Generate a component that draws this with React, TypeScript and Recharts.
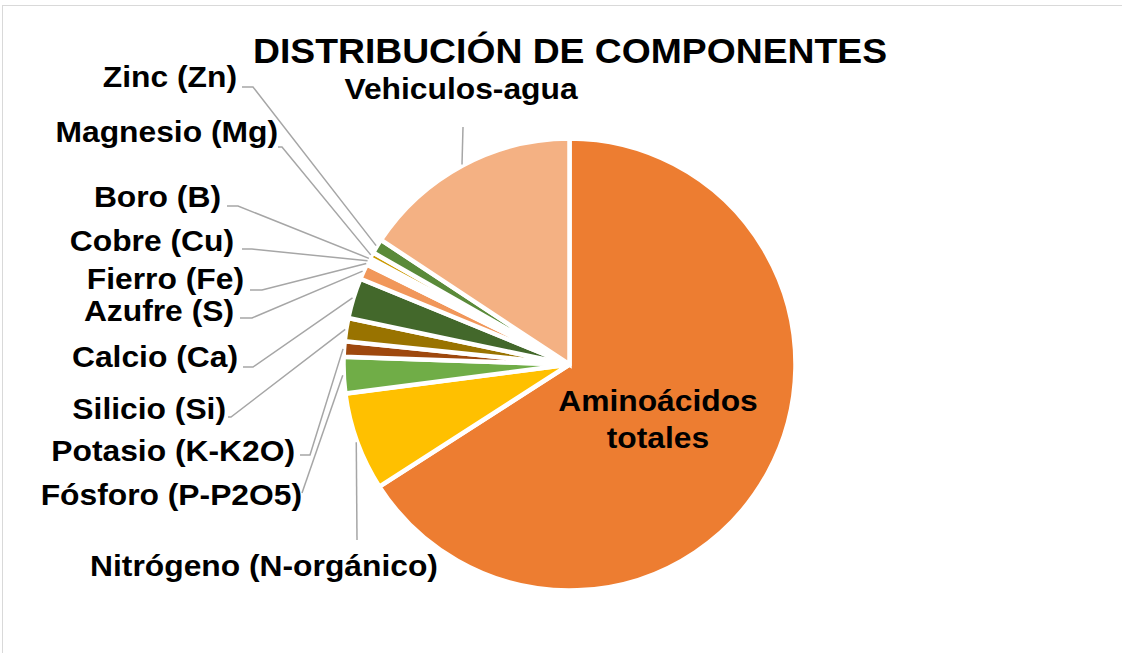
import { PieChart, Pie, Cell } from 'recharts';

const categorias = [
  'Aminoácidos totales',
  'Nitrógeno (N-orgánico)',
  'Fósforo (P-P2O5)',
  'Potasio (K-K2O)',
  'Silicio (Si)',
  'Calcio (Ca)',
  'Azufre (S)',
  'Fierro (Fe)',
  'Cobre (Cu)',
  'Boro (B)',
  'Magnesio (Mg)',
  'Zinc (Zn)',
  'Vehiculos-agua',
];

const porcentajes = [65.9, 7.03, 2.6, 1.1, 1.65, 2.9, 1.1, 0.1, 0.3, 0.1, 0.45, 1.05, 15.7];

const colores = [
  '#ED7D31', '#FFC000', '#70AD47', '#9E480E', '#997300', '#43682B', '#F1975A',
  '#FFCD33', '#8CC168', '#BE6427', '#CC9A00', '#5A8A39', '#F4B183',
];

// posicion de etiquetas (manual, como en el grafico original)
// tx/ty: ancla del texto; pts: puntos de la linea guia despues del borde del sector
type Layout = { tx: number; ty: number; anchor: 'start' | 'middle' | 'end'; pts: [number, number][]; wrap?: boolean };
const etiquetas: Layout[] = [
  { tx: 658, ty: 411, anchor: 'middle', pts: [], wrap: true },
  { tx: 264, ty: 576, anchor: 'middle', pts: [[357, 540]] },
  { tx: 302, ty: 505, anchor: 'end', pts: [[302, 493]] },
  { tx: 295, ty: 461, anchor: 'end', pts: [[310, 455], [300, 455]] },
  { tx: 226, ty: 419, anchor: 'end', pts: [[231, 417], [228, 417]] },
  { tx: 238, ty: 367, anchor: 'end', pts: [[253, 367], [243, 367]] },
  { tx: 234, ty: 321, anchor: 'end', pts: [[252, 318], [240, 318]] },
  { tx: 244, ty: 289, anchor: 'end', pts: [[262, 290], [250, 290]] },
  { tx: 234, ty: 251, anchor: 'end', pts: [[252, 249], [242, 249]] },
  { tx: 221, ty: 207, anchor: 'end', pts: [[238, 206], [227, 206]] },
  { tx: 278, ty: 142, anchor: 'end', pts: [[282, 147], [278, 147]] },
  { tx: 237, ty: 87, anchor: 'end', pts: [[253, 87], [242, 87]] },
  { tx: 461, ty: 99, anchor: 'middle', pts: [[463, 127]] },
];

const datos = categorias.map((nombre, i) => ({ nombre, valor: porcentajes[i] }));

const FUENTE = '"Liberation Sans", Arial, sans-serif';
const RAD = Math.PI / 180;

function Etiqueta(props: any) {
  const { cx, cy, midAngle, outerRadius, index } = props;
  const lay = etiquetas[index];
  const nombre = categorias[index];
  const r = outerRadius + 1;
  const x0 = cx + r * Math.cos(-midAngle * RAD);
  const y0 = cy + r * Math.sin(-midAngle * RAD);
  const lineas = lay.wrap ? nombre.split(' ') : [nombre];
  return (
    <g>
      {lay.pts.length > 0 && (
        <polyline
          points={[[x0, y0], ...lay.pts].map((p) => p.join(',')).join(' ')}
          fill="none"
          stroke="#A6A6A6"
          strokeWidth={1.5}
        />
      )}
      {lineas.map((t, k) => (
        <text
          key={k}
          transform={`translate(${lay.tx},${lay.ty + k * 37}) scale(1.085,1)`}
          x={0}
          y={0}
          textAnchor={lay.anchor}
          fontFamily={FUENTE}
          fontWeight={700}
          fontSize={29.3}
          fill="#000"
        >
          {t}
        </text>
      ))}
    </g>
  );
}

export default function App() {
  return (
    <div
      style={{
        position: 'absolute',
        left: 0,
        top: 0,
        width: 1122,
        height: 653,
        overflow: 'hidden',
        background: '#fff',
      }}
    >
      <div
        style={{
          position: 'absolute',
          left: 2,
          top: 5,
          width: 1200,
          height: 700,
          borderLeft: '1px solid #D9D9D9',
          borderTop: '1px solid #D9D9D9',
        }}
      />
      <svg width={1122} height={80} style={{ position: 'absolute', left: 0, top: 0 }}>
        <text
          transform="translate(570,63) scale(1.066,1)"
          textAnchor="middle"
          fontFamily={FUENTE}
          fontWeight={700}
          fontSize={35}
          fill="#000"
        >
          DISTRIBUCIÓN DE COMPONENTES
        </text>
      </svg>
      <div style={{ position: 'absolute', left: 0, top: 0 }}>
        <PieChart width={1122} height={653} margin={{ top: 0, right: 0, bottom: 0, left: 0 }}>
          <Pie
            data={datos}
            dataKey="valor"
            nameKey="nombre"
            cx={569.5}
            cy={364.5}
            outerRadius={226}
            startAngle={90}
            endAngle={-270}
            stroke="#fff"
            strokeWidth={4.5}
            label={Etiqueta}
            labelLine={false}
            isAnimationActive={false}
          >
            {datos.map((d, i) => (
              <Cell key={d.nombre} fill={colores[i]} />
            ))}
          </Pie>
        </PieChart>
      </div>
    </div>
  );
}
